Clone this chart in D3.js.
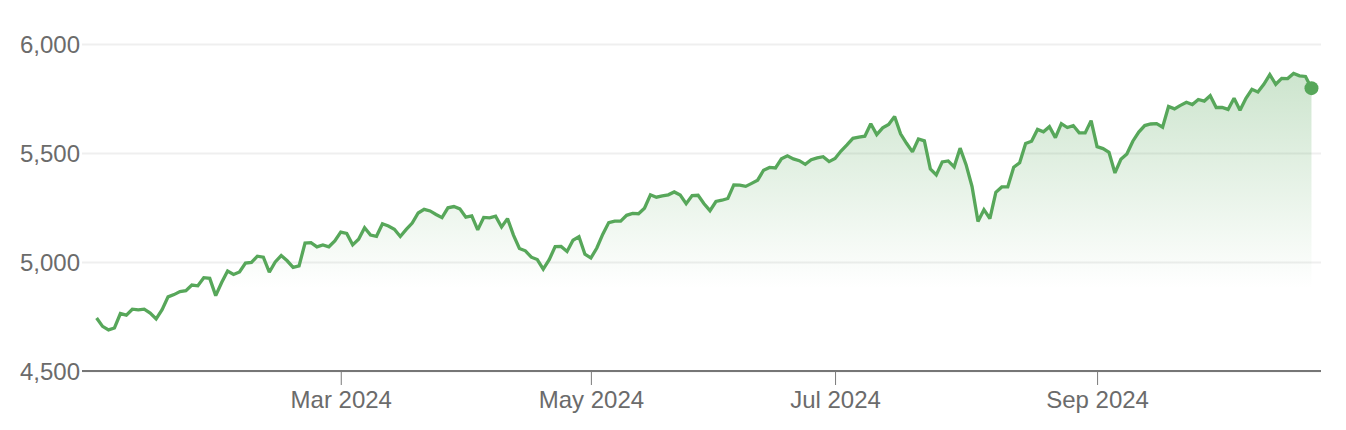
<!DOCTYPE html>
<html>
<head>
<meta charset="utf-8">
<script src="https://cdn.jsdelivr.net/npm/d3@7"></script>
<style>
  html, body { margin: 0; padding: 0; background: #ffffff; }
  svg { display: block; }
  text { font-family: "Liberation Sans", Arial, Helvetica, sans-serif; }
</style>
</head>
<body>
<div id="chart"></div>
<script>
// ---- Data: daily closes, one array per month of trading days ----
const monthNames = ["Jan","Feb","Mar","Apr","May","Jun","Jul","Aug","Sep","Oct"];
const year = 2024;
const tradingDays = [
  [2,3,4,5,8,9,10,11,12,16,17,18,19,22,23,24,25,26,29,30,31],
  [1,2,5,6,7,8,9,12,13,14,15,16,20,21,22,23,26,27,28,29],
  [1,4,5,6,7,8,11,12,13,14,15,18,19,20,21,22,25,26,27,28],
  [1,2,3,4,5,8,9,10,11,12,15,16,17,18,19,22,23,24,25,26,29,30],
  [1,2,3,6,7,8,9,10,13,14,15,16,17,20,21,22,23,24,28,29,30,31],
  [3,4,5,6,7,10,11,12,13,14,17,18,20,21,24,25,26,27,28],
  [1,2,3,5,8,9,10,11,12,15,16,17,18,19,22,23,24,25,26,29,30,31],
  [1,2,5,6,7,8,9,12,13,14,15,16,19,20,21,22,23,26,27,28,29,30],
  [3,4,5,6,9,10,11,12,13,16,17,18,19,20,23,24,25,26,27,30],
  [1,2,3,4,7,8,9,10,11,14,15,16,17,18,21,22,23]
];
const closesJan = [4742.83,4704.81,4688.68,4697.24,4763.54,4756.50,4783.45,4780.24,4783.83,4765.98,4739.21,4780.94,4839.81,4850.43,4864.60,4868.55,4894.16,4890.97,4927.93,4924.97,4845.65];
const closesFeb = [4906.19,4958.61,4942.81,4954.23,4995.06,4997.91,5026.61,5021.84,4953.17,5000.62,5029.73,5005.57,4975.51,4981.80,5087.03,5088.80,5069.53,5078.18,5069.76,5096.27];
const closesMar = [5137.08,5130.95,5078.65,5104.76,5157.36,5123.69,5117.94,5175.27,5165.31,5150.48,5117.09,5149.42,5178.51,5224.62,5241.53,5234.18,5218.19,5203.58,5248.49,5254.35];
const closesApr = [5243.77,5205.81,5211.49,5147.21,5204.34,5202.39,5209.91,5160.64,5199.06,5123.41,5061.82,5051.41,5022.21,5011.12,4967.23,5010.60,5070.55,5071.63,5048.42,5099.96,5116.17,5035.69];
const closesMay = [5018.39,5064.20,5127.79,5180.74,5187.70,5187.67,5214.08,5222.68,5221.42,5246.68,5308.15,5297.10,5303.27,5308.13,5321.41,5307.01,5267.84,5304.72,5306.04,5266.95,5235.48,5277.51];
const closesJun = [5283.40,5291.34,5354.03,5352.96,5346.99,5360.79,5375.32,5421.03,5433.74,5431.60,5473.23,5487.03,5473.17,5464.62,5447.87,5469.30,5477.90,5482.87,5460.48];
const closesJul = [5475.09,5509.01,5537.02,5567.19,5572.85,5576.98,5633.91,5584.54,5615.35,5631.22,5667.20,5588.27,5544.59,5505.00,5564.41,5555.74,5427.13,5399.22,5459.10,5463.54,5436.44,5522.30];
const closesAug = [5446.68,5346.56,5186.33,5240.03,5199.50,5319.31,5344.16,5344.39,5434.43,5455.21,5543.22,5554.25,5608.25,5597.12,5620.85,5570.64,5634.61,5616.84,5625.80,5592.18,5591.96,5648.40];
const closesSep = [5528.93,5520.07,5503.41,5408.42,5471.05,5495.52,5554.13,5595.76,5626.02,5633.09,5634.58,5618.26,5713.64,5702.55,5718.57,5732.93,5722.26,5745.37,5738.17,5762.48];
const closesOct = [5708.75,5709.54,5699.94,5751.07,5695.94,5751.13,5792.04,5780.05,5815.03,5859.85,5815.26,5842.47,5841.47,5864.67,5853.98,5851.20,5797.42];
const closesByMonth = [closesJan,closesFeb,closesMar,closesApr,closesMay,closesJun,closesJul,closesAug,closesSep,closesOct];

const yTicks = [4500, 5000, 5500, 6000];
const xTickMonths = ["Mar","May","Jul","Sep"];
const gradientEndValue = 4880;

(function () {
  // ---- Build table ----
  const data = [];
  closesByMonth.forEach((arr, m) => {
    arr.forEach((v, i) => {
      data.push({ i: data.length, month: m, day: tradingDays[m][i], value: v });
    });
  });

  // ---- Layout ----
  const W = 1346, H = 430;
  const mLeft = 82, mRight = 1321, mTop = 44, mBottom = 371;
  const lineColor = "#57a75a";
  const textColor = "#6b6b6b";
  const fontSize = "24px";

  const svg = d3.select("#chart").append("svg").attr("width", W).attr("height", H);

  const x = d3.scaleLinear().domain([-2.45, data.length - 1 + 1.6]).range([mLeft, mRight]);
  const y = d3.scaleLinear().domain([4500, 6000]).range([mBottom, mTop]);

  // gradient
  const defs = svg.append("defs");
  const grad = defs.append("linearGradient").attr("id", "fillGrad")
    .attr("gradientUnits", "userSpaceOnUse")
    .attr("x1", 0).attr("x2", 0)
    .attr("y1", y(d3.max(data, d => d.value))).attr("y2", y(gradientEndValue));
  grad.append("stop").attr("offset", "0%").attr("stop-color", lineColor).attr("stop-opacity", 0.3);
  grad.append("stop").attr("offset", "100%").attr("stop-color", lineColor).attr("stop-opacity", 0.0);

  // gridlines + y labels
  const yAxis = d3.axisLeft(y).tickValues(yTicks).tickSize(-(mRight - mLeft)).tickPadding(2)
    .tickFormat(d3.format(","));
  const gy = svg.append("g").attr("transform", `translate(${mLeft},0)`).call(yAxis);
  gy.select(".domain").remove();
  gy.selectAll(".tick line").attr("stroke", "#efefef").attr("stroke-width", 2);
  gy.selectAll(".tick text").attr("fill", textColor).style("font-size", fontSize).attr("dy", "0.35em").attr("x", -2);

  // area
  const area = d3.area().x(d => x(d.i)).y0(y(gradientEndValue)).y1(d => y(d.value));
  svg.append("path").datum(data.filter(d => d.value >= gradientEndValue || true)).attr("d", area)
    .attr("fill", "url(#fillGrad)");

  // line
  const line = d3.line().x(d => x(d.i)).y(d => y(d.value));
  svg.append("path").datum(data).attr("d", line)
    .attr("fill", "none").attr("stroke", lineColor).attr("stroke-width", 3.3)
    .attr("stroke-linejoin", "miter").attr("stroke-miterlimit", 2);

  // last point dot
  const last = data[data.length - 1];
  svg.append("circle").attr("cx", x(last.i)).attr("cy", y(last.value)).attr("r", 7).attr("fill", lineColor);

  // x axis
  const tickIdx = xTickMonths.map(mn => {
    const m = monthNames.indexOf(mn);
    return data.find(d => d.month === m).i;
  });
  const xAxis = d3.axisBottom(x).tickValues(tickIdx).tickSize(14).tickPadding(6)
    .tickFormat(i => monthNames[data[i].month] + " " + year);
  const gx = svg.append("g").attr("transform", `translate(0,${mBottom})`).call(xAxis);
  gx.select(".domain").attr("stroke", "#767676").attr("stroke-width", 2).attr("d", `M${mLeft},0H${mRight}`);
  gx.selectAll(".tick line").attr("stroke", "#7a7a7a").attr("stroke-width", 1);
  gx.selectAll(".tick text").attr("fill", textColor).style("font-size", fontSize);
})();
</script>
</body>
</html>
